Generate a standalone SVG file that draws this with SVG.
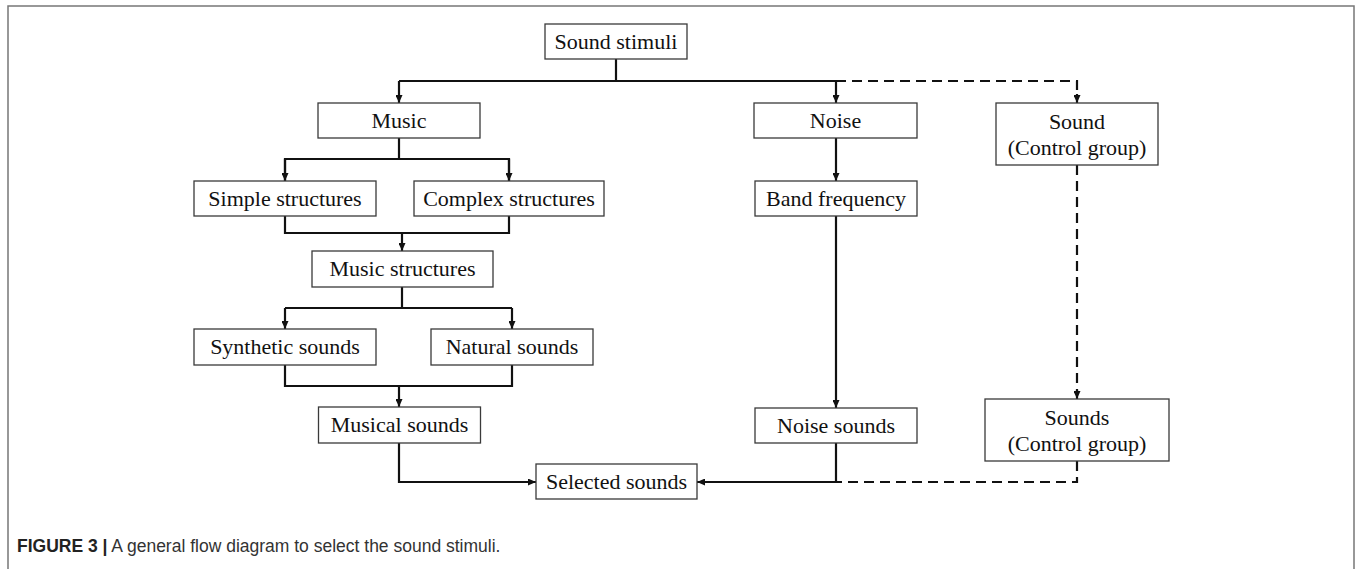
<svg xmlns="http://www.w3.org/2000/svg" width="1358" height="569" viewBox="0 0 1358 569">
<defs>
<style>
.box{fill:#fff;stroke:#3a3a3a;stroke-width:1.3}
.t{font-family:"Liberation Serif","Times New Roman",serif;font-size:22px;fill:#111;text-anchor:middle}
.ln{fill:none;stroke:#111;stroke-width:2.2}
.dash{fill:none;stroke:#111;stroke-width:2.2;stroke-dasharray:10 6}
.cap{font-family:"Liberation Sans",Arial,sans-serif;font-size:17.5px;fill:#333}
</style>
<marker id="ah" viewBox="0 0 10 10" refX="10" refY="5" markerWidth="8" markerHeight="7" markerUnits="userSpaceOnUse" orient="auto" preserveAspectRatio="none">
<path d="M0,0 L10,5 L0,10 z" fill="#111"/>
</marker>
</defs>
<rect width="1358" height="569" fill="#fff"/>
<path d="M8,575 V6 H1354 V575" fill="none" stroke="#777" stroke-width="1.5"/>

<g id="connectors">
<path class="ln" d="M616,59 V81"/>
<path class="ln" d="M399,81 H836"/>
<path class="ln" d="M399,81 V103" marker-end="url(#ah)"/>
<path class="ln" d="M836,81 V103" marker-end="url(#ah)"/>
<path class="dash" d="M836,81 H1077 V94"/>
<path class="ln" d="M1077,94 V103" marker-end="url(#ah)"/>
<path class="ln" d="M399,138 V159"/>
<path class="ln" d="M285,181 V159 H509 V181"/>
<path class="ln" d="M285,159 V181" marker-end="url(#ah)"/>
<path class="ln" d="M509,159 V181" marker-end="url(#ah)"/>
<path class="ln" d="M836,138 V181" marker-end="url(#ah)"/>
<path class="ln" d="M285,216 V233 H509 V216"/>
<path class="ln" d="M402,233 V251" marker-end="url(#ah)"/>
<path class="ln" d="M402,287 V308"/>
<path class="ln" d="M285,308 H512"/>
<path class="ln" d="M285,308 V329" marker-end="url(#ah)"/>
<path class="ln" d="M512,308 V329" marker-end="url(#ah)"/>
<path class="ln" d="M285,365 V386 H512 V365"/>
<path class="ln" d="M399,386 V407" marker-end="url(#ah)"/>
<path class="ln" d="M836,216 V408" marker-end="url(#ah)"/>
<path class="dash" d="M1077,165 V392"/>
<path class="ln" d="M1077,390 V399" marker-end="url(#ah)"/>
<path class="ln" d="M399,443 V482 H536" marker-end="url(#ah)"/>
<path class="ln" d="M836,443 V482 H697" marker-end="url(#ah)"/>
<path class="dash" d="M1077,461 V482 H836"/>
</g>

<g id="n-sound-stimuli"><rect class="box" x="545" y="24" width="142" height="35"/><text class="t" x="616" y="49">Sound stimuli</text></g>
<g id="n-music"><rect class="box" x="318" y="103" width="162" height="35"/><text class="t" x="399" y="128">Music</text></g>
<g id="n-noise"><rect class="box" x="754" y="103" width="163" height="35"/><text class="t" x="835.5" y="128">Noise</text></g>
<g id="n-sound-control"><rect class="box" x="996" y="103" width="162" height="62"/><text class="t" x="1077" y="129">Sound</text><text class="t" x="1077" y="155">(Control group)</text></g>
<g id="n-simple"><rect class="box" x="194" y="181" width="182" height="35"/><text class="t" x="285" y="206">Simple structures</text></g>
<g id="n-complex"><rect class="box" x="414" y="181" width="190" height="35"/><text class="t" x="509" y="206">Complex structures</text></g>
<g id="n-band"><rect class="box" x="755" y="181" width="162" height="35"/><text class="t" x="836" y="206">Band frequency</text></g>
<g id="n-music-structures"><rect class="box" x="312" y="251" width="181" height="36"/><text class="t" x="402.5" y="276">Music structures</text></g>
<g id="n-synthetic"><rect class="box" x="194" y="329" width="182" height="36"/><text class="t" x="285" y="354">Synthetic sounds</text></g>
<g id="n-natural"><rect class="box" x="431" y="329" width="162" height="36"/><text class="t" x="512" y="354">Natural sounds</text></g>
<g id="n-musical-sounds"><rect class="box" x="318.5" y="407" width="162" height="36"/><text class="t" x="399.5" y="432">Musical sounds</text></g>
<g id="n-noise-sounds"><rect class="box" x="755" y="408" width="162" height="35"/><text class="t" x="836" y="433">Noise sounds</text></g>
<g id="n-sounds-control"><rect class="box" x="985" y="399" width="184" height="62"/><text class="t" x="1077" y="425">Sounds</text><text class="t" x="1077" y="451">(Control group)</text></g>
<g id="n-selected"><rect class="box" x="536" y="464" width="161" height="35"/><text class="t" x="616.5" y="489">Selected sounds</text></g>

<text class="cap" x="17" y="552"><tspan font-weight="bold" fill="#222">FIGURE 3 |</tspan> A general flow diagram to select the sound stimuli.</text>
</svg>
